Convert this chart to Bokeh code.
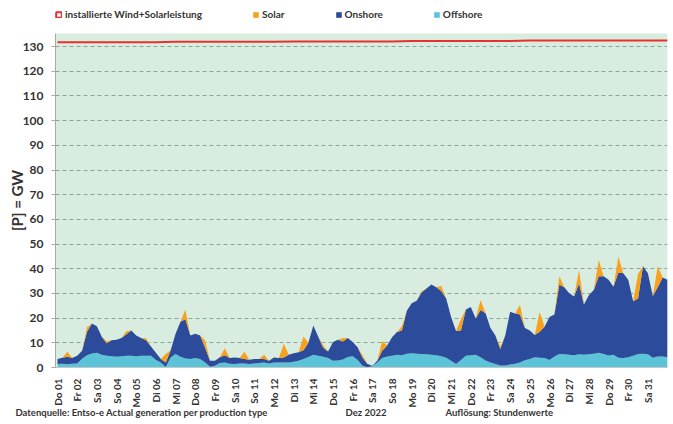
import math
from bokeh.plotting import figure
from bokeh.models import (ColumnDataSource, Range1d, FixedTicker, Legend, LegendItem,
                          Label, BoxAnnotation)
from bokeh.embed import file_html
from bokeh.resources import INLINE

# ---- data (6-hour steps, Dec 2022, GW) ----
hours = list(range(0, 745, 6))

offshore = [
    1.4, 1.5, 1.3, 1.5,  1.6, 3.5, 5.0, 5.7,  6.0, 5.2, 4.8, 4.6,  4.4, 4.6, 4.8, 4.8,
    4.6, 4.8, 4.8, 4.8,  3.0, 2.0, 0.2, 4.1,  5.5, 4.4, 3.6, 3.4,  3.8, 3.4, 2.0, 0.3,
    0.7, 1.8, 2.0, 1.5,  1.4, 1.6, 1.6, 1.4,  1.6, 1.8, 2.0, 1.6,  2.0, 2.0, 2.0, 2.0,
    2.3, 2.7, 3.4, 4.3,  5.2, 4.8, 4.4, 3.8,  2.7, 2.8, 3.2, 4.3,  4.6, 3.0, 0.7, 0.1,
    0.6, 2.0, 3.8, 4.5,  4.8, 5.2, 5.0, 5.6,  5.8, 5.6, 5.5, 5.4,  5.2, 5.0, 4.6, 4.0,
    2.7, 1.4, 3.0, 4.8,  5.0, 5.2, 4.2, 2.8,  2.0, 1.4, 0.8, 0.8,  1.2, 1.5, 2.0, 2.9,
    3.4, 4.2, 4.0, 3.8,  3.0, 4.5, 5.5, 5.4,  5.2, 5.0, 5.4, 5.2,  5.4, 5.6, 6.0, 5.5,
    4.9, 5.2, 4.0, 3.8,  4.2, 4.8, 5.5, 5.6,  5.4, 4.0, 4.5, 4.5,  4.2]

onshore = [
    2.0, 2.5, 3.1, 2.3,  3.2, 3.3, 9.5, 12.1,  10.7, 7.3, 5.0, 6.4,  6.8, 7.4, 8.7, 10.2,
    8.4, 7.2, 6.2, 3.7,  3.0, 1.4, 1.8, 2.9,  8.2, 14.1, 15.9, 9.6,  9.9, 9.6, 6.0, 2.4,
    2.0, 2.4, 3.0, 2.3,  2.7, 2.2, 1.8, 1.7,  1.8, 1.6, 1.4, 1.1,  2.1, 1.8, 2.1, 3.2,
    3.5, 3.5, 3.6, 5.7,  11.8, 7.7, 3.6, 2.7,  7.6, 8.4, 7.3, 7.7,  5.7, 5.2, 3.3, 1.3,
    0.1, 0.7, 3.0, 4.4,  7.5, 9.2, 10.0, 17.4,  20.2, 21.4, 24.9, 26.6,  28.4, 27.5, 26.4, 24.0,
    17.8, 13.4, 12.0, 18.7,  19.5, 14.7, 19.1, 19.2,  14.0, 11.6, 6.7, 12.2,  21.4, 20.4, 19.5, 13.1,
    11.6, 9.0, 10.5, 12.7,  17.5, 17.0, 28.0, 27.1,  24.9, 23.8, 28.6, 20.3,  23.9, 25.8, 31.0, 31.5,
    30.6, 27.5, 34.5, 34.4,  31.3, 22.0, 22.5, 35.4,  32.8, 25.0, 28.0, 32.0,  31.3]

solar = [
    0, 0, 2.0, 0,  0, 0, 1.8, 0,  0, 0, 0.8, 0,  0, 0, 1.2, 0,
    0, 0, 0.8, 0,  0, 0, 3.5, 0,  0, 0, 4.0, 0,  0, 0, 3.0, 0,
    0, 0, 2.8, 0,  0, 0, 3.0, 0,  0, 0, 1.8, 0,  0, 0, 5.5, 0,
    0, 0, 5.6, 0,  0, 0, 1.0, 0,  0, 0, 1.5, 0,  0, 0, 1.0, 0,
    0, 0, 3.9, 0,  0, 0, 1.7, 0,  0, 0, 0.5, 0,  0, 0, 2.0, 0,
    0, 0, 4.5, 0,  0, 0, 4.0, 0,  0, 0, 1.0, 0,  0, 0, 3.8, 0,
    0, 0, 8.0, 0,  0, 0, 3.5, 0,  0, 0, 5.5, 0,  0, 0, 6.5, 0,
    0, 0, 6.5, 0,  0, 0, 10.0, 0,  0, 0, 8.5, 0,  0]

install_days = list(range(0, 32))
installed = [131.8, 131.8, 131.8, 131.8, 131.8, 131.8, 132.0, 132.0, 132.0, 132.0, 132.0,
             132.0, 132.1, 132.1, 132.1, 132.1, 132.1, 132.1, 132.3, 132.3, 132.3, 132.3,
             132.3, 132.3, 132.5, 132.5, 132.5, 132.5, 132.5, 132.5, 132.5, 132.5]

day_labels = ["Do 01", "Fr 02", "Sa 03", "So 04", "Mo 05", "Di 06", "Mi 07", "Do 08",
              "Fr 09", "Sa 10", "So 11", "Mo 12", "Di 13", "Mi 14", "Do 15", "Fr 16",
              "Sa 17", "So 18", "Mo 19", "Di 20", "Mi 21", "Do 22", "Fr 23", "Sa 24",
              "So 25", "Mo 26", "Di 27", "Mi 28", "Do 29", "Fr 30", "Sa 31"]
y_ticks = list(range(0, 131, 10))

footer_texts = ["Datenquelle: Entso-e  Actual generation per production type",
                "Dez 2022", "Auflösung: Stundenwerte"]

# ---- style / geometry ----
C_OFF = "#5cc4d9"
C_ON = "#2c4b9b"
C_SOL = "#f7a11c"
C_RED = "#e8312f"
BG = "#d8ece0"
TXT = "#333333"
FONT = "Lato"

W, H = 673, 424
X0_PX, DAY_PX = 57.0, 19.68          # pixel of day 0, pixels per day
Y0_PX, TOP_PX, Y_MAX = 367.0, 33.0, 135.3
GW_PX = (Y0_PX - TOP_PX) / Y_MAX
FRAME_R = 667.0
X_LEFT = -0.1                         # data x of the plot-area's left edge

p = figure(width=W, height=H, output_backend="svg", toolbar_location=None,
           x_range=Range1d(-X0_PX / DAY_PX, (FRAME_R - X0_PX) / DAY_PX),
           y_range=Range1d(-(H - Y0_PX) / GW_PX, Y_MAX + TOP_PX / GW_PX),
           min_border_left=0, min_border_right=int(W - FRAME_R),
           min_border_top=0, min_border_bottom=0)
p.background_fill_color = "white"
p.border_fill_color = "white"
p.outline_line_color = None

# plot-area background
p.add_layout(BoxAnnotation(left=X_LEFT, right=31, bottom=0, top=Y_MAX,
                           fill_color=BG, fill_alpha=1, line_alpha=0, level="image"))

src = ColumnDataSource(dict(x=[h / 24 for h in hours], off=offshore, on=onshore, sol=solar))
areas = p.varea_stack(stackers=["off", "on", "sol"], x="x", color=[C_OFF, C_ON, C_SOL], source=src)

# installed capacity: drawn as a closed outline traced forth and back (gives a hollow
# square legend glyph like the original)
red = p.patch(x=install_days + install_days[::-1], y=installed + installed[::-1],
              fill_alpha=0, line_color=C_RED, line_width=2)

# grid
p.xgrid.grid_line_color = None
p.ygrid.ticker = FixedTicker(ticks=y_ticks)
p.ygrid.cross_bounds = (X_LEFT, 31)
p.ygrid.grid_line_color = "#8aa698"
p.ygrid.grid_line_dash = "4 3"
p.ygrid.grid_line_width = 1

# y axis
ya = p.yaxis[0]
ya.fixed_location = X_LEFT
ya.bounds = (0, Y_MAX)
ya.ticker = FixedTicker(ticks=y_ticks)
ya.axis_line_color = "#a8a8a8"
ya.major_tick_line_color = "#a8a8a8"
ya.major_tick_out = 4
ya.major_tick_in = 0
ya.minor_tick_line_color = None
ya.major_label_standoff = 8
ya.major_label_text_font = FONT
ya.major_label_text_font_style = "bold"
ya.major_label_text_font_size = "12px"
ya.major_label_text_color = TXT
ya.axis_label = "[P] = GW"
ya.axis_label_standoff = -6
ya.axis_label_text_font = FONT
ya.axis_label_text_font_style = "bold"
ya.axis_label_text_font_size = "15px"
ya.axis_label_text_color = TXT

# x axis
xa = p.xaxis[0]
xa.fixed_location = 0
xa.bounds = (X_LEFT, 31)
xa.ticker = FixedTicker(ticks=list(range(len(day_labels))))
xa.major_label_overrides = {i: lab for i, lab in enumerate(day_labels)}
xa.major_label_orientation = math.pi / 2
xa.axis_line_color = "#c8c8c8"
xa.major_tick_line_color = None
xa.minor_tick_line_color = None
xa.major_label_standoff = 5
xa.major_label_text_font = FONT
xa.major_label_text_font_style = "bold"
xa.major_label_text_font_size = "10px"
xa.major_label_text_color = TXT

# legend across the top
lg = Legend(items=[LegendItem(label="installierte Wind+Solarleistung", renderers=[red]),
                   LegendItem(label="Solar", renderers=[areas[2]]),
                   LegendItem(label="Onshore", renderers=[areas[1]]),
                   LegendItem(label="Offshore", renderers=[areas[0]])],
            location=(55, H - 20), orientation="horizontal",
            glyph_width=7, glyph_height=7, label_height=12, label_standoff=3,
            padding=0, margin=0, spacing=50,
            border_line_alpha=0, background_fill_alpha=0,
            label_text_font=FONT, label_text_font_style="bold",
            label_text_font_size="10px", label_text_color=TXT)
p.add_layout(lg)

# footer
for tx, xx in zip(footer_texts, [15, 345, 445]):
    p.add_layout(Label(x=xx, y=H - 412, x_units="screen", y_units="screen", text=tx,
                       text_align="left", text_baseline="middle",
                       text_font=FONT, text_font_style="bold",
                       text_font_size="9.5px", text_color=TXT))

open("out.html", "w").write(file_html(p, INLINE))
